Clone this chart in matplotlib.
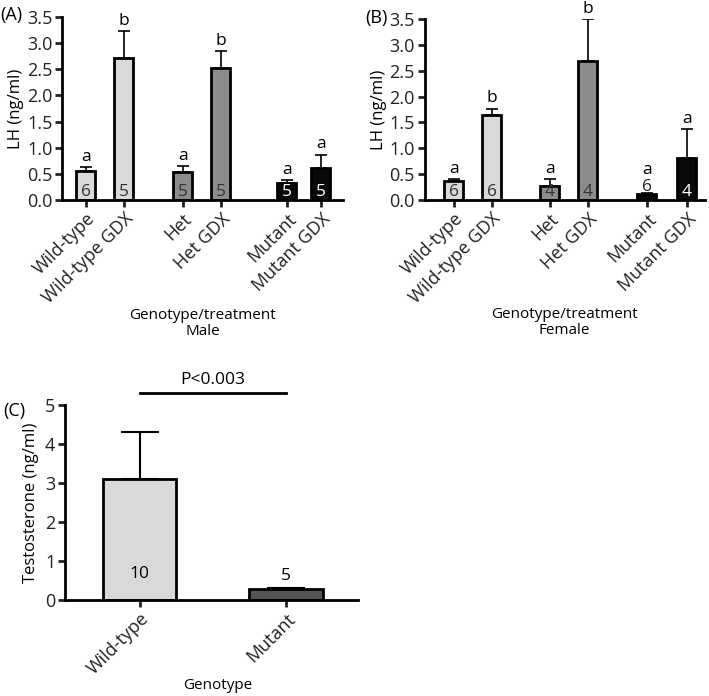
"""
LH and testosterone bar charts (panels A, B, C)
"""

import matplotlib
matplotlib.use("Agg")
import matplotlib.pyplot as plt

matplotlib.rcParams['font.family'] = ['Open Sans', 'DejaVu Sans']

# ---- data ----
groups = ["Wild-type", "Wild-type GDX", "Het", "Het GDX", "Mutant", "Mutant GDX"]

male_mean = [0.55, 2.72, 0.54, 2.53, 0.32, 0.62]
male_upper = [0.63, 3.23, 0.65, 2.85, 0.38, 0.87]
male_n = ["6", "5", "5", "5", "5", "5"]
male_letters = ["a", "b", "a", "b", "a", "a"]

female_mean = [0.36, 1.65, 0.28, 2.68, 0.12, 0.82]
female_upper = [0.41, 1.77, 0.41, 3.50, 0.13, 1.37]
female_n = ["6", "6", "4", "4", "6", "4"]
female_letters = ["a", "b", "a", "b", "a", "a"]

genotypes = ["Wild-type", "Mutant"]
testo_mean = [3.1, 0.28]
testo_upper = [4.32, 0.30]
testo_n = ["10", "5"]

# ---- style ----
C_WT, C_HET, C_MUT = "#d9d9d9", "#8c8c8c", "#0a0a0a"
lh_colors = [C_WT, C_WT, C_HET, C_HET, C_MUT, C_MUT]
n_colors = ["#333333", "#333333", "#333333", "#333333", "white", "white"]
LW = 2.0
FS = 13     # tick labels
FT = 12.5   # annotations
FL = 11     # x axis labels
FY = 12     # y axis labels


def style_axes(ax):
    for s in ["top", "right"]:
        ax.spines[s].set_visible(False)
    for s in ["left", "bottom"]:
        ax.spines[s].set_linewidth(LW)
    ax.tick_params(width=LW, length=5, labelsize=FS, colors="#222222", pad=2)


def lh_panel(ax, pos, xlim, mean, upper, n, letters, sex):
    err = [[0] * len(mean), [u - m for u, m in zip(upper, mean)]]
    ax.bar(pos, mean, width=0.5, color=lh_colors, edgecolor="black", linewidth=LW,
           yerr=err, error_kw=dict(ecolor="black", elinewidth=1.2, capsize=4.3, capthick=1.2),
           zorder=2)
    for i, (x, m, u) in enumerate(zip(pos, mean, upper)):
        if m > 0.2:
            ax.text(x, 0.0, n[i], ha="center", va="bottom", fontsize=FT, color=n_colors[i])
            ax.text(x, u + 0.04, letters[i], ha="center", va="bottom", fontsize=FT)
        else:
            # bar too short: n sits on top, letter above it
            ax.text(x, m - 0.02, n[i], ha="center", va="bottom", fontsize=FT, color="#222222")
            ax.text(x, m + 0.30, letters[i], ha="center", va="bottom", fontsize=FT)
    ax.set_ylim(0, 3.5)
    ax.set_yticks([0, 0.5, 1.0, 1.5, 2.0, 2.5, 3.0, 3.5])
    ax.set_yticklabels([f"{v:.1f}" for v in ax.get_yticks()])
    ax.set_xlim(*xlim)
    ax.set_xticks(pos)
    ax.set_xticklabels(groups, rotation=45, ha="right", rotation_mode="anchor")
    ax.set_ylabel("LH (ng/ml)", fontsize=FY, labelpad=2)
    ax.set_xlabel("Genotype/treatment\n" + sex, fontsize=FL, linespacing=1.1)
    ax.xaxis.set_label_coords(0.5, -0.59)
    style_axes(ax)


fig = plt.figure(figsize=(7.09, 6.96), dpi=100)

axA = fig.add_axes([0.0875, 0.7126, 0.396, 0.263])
lh_panel(axA, [0, 1, 2.55, 3.55, 5.29, 6.18], (-0.63, 6.76),
         male_mean, male_upper, male_n, male_letters, "Male")
fig.text(0.0, 0.978, "(A)", ha="left", va="center", fontsize=FS)

axB = fig.add_axes([0.599, 0.7126, 0.395, 0.260])
lh_panel(axB, [0, 1, 2.53, 3.53, 5.08, 6.13], (-0.76, 6.6),
         female_mean, female_upper, female_n, female_letters, "Female")
fig.text(0.515, 0.974, "(B)", ha="left", va="center", fontsize=FS)

# ---- panel C ----
axC = fig.add_axes([0.0917, 0.138, 0.413, 0.280])
terr = [[0, 0], [u - m for u, m in zip(testo_upper, testo_mean)]]
axC.bar([0, 1], testo_mean, width=0.5, color=[C_WT, "#555555"], edgecolor="black",
        linewidth=LW, yerr=terr,
        error_kw=dict(ecolor="black", elinewidth=1.5, capsize=13.5, capthick=1.5), zorder=2)
axC.text(0, 0.45, testo_n[0], ha="center", va="bottom", fontsize=FT)
axC.text(1, testo_mean[1] + 0.12, testo_n[1], ha="center", va="bottom", fontsize=FT)
axC.set_ylim(0, 5)
axC.set_yticks(range(6))
axC.set_xlim(-0.51, 1.49)
axC.set_xticks([0, 1])
axC.set_xticklabels(genotypes, rotation=45, ha="right", rotation_mode="anchor")
axC.set_ylabel("Testosterone (ng/ml)", fontsize=FY, labelpad=4)
axC.set_xlabel("Genotype", fontsize=FL)
axC.xaxis.set_label_coords(0.52, -0.40)
style_axes(axC)
axC.plot([0, 1.0], [5.31, 5.31], color="black", lw=LW, clip_on=False)
axC.text(0.5, 5.43, "P<0.003", ha="center", va="bottom", fontsize=FT)
fig.text(0.005, 0.41, "(C)", ha="left", va="center", fontsize=FS)

plt.savefig("out.png", dpi=100)
plt.close()
